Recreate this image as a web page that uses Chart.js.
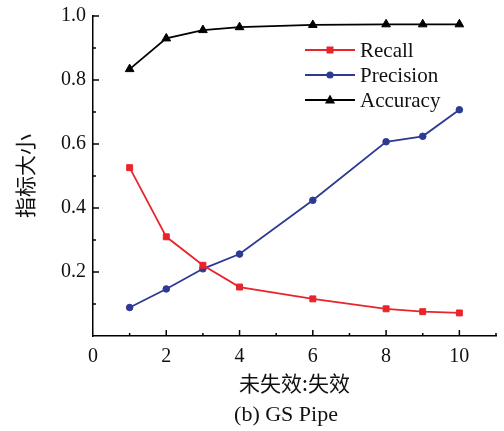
<!DOCTYPE html>
<html><head><meta charset="utf-8">
<script src="https://cdn.jsdelivr.net/npm/chart.js@4/dist/chart.umd.min.js"></script>
<style>html,body{margin:0;padding:0;background:#fff}#wrap{width:504px;height:431px;position:relative}</style>
</head><body><div id="wrap"><canvas id="c" width="504" height="431"></canvas></div>
<script>
const ratios = [1, 2, 3, 4, 6, 8, 9, 10];
const recall = [0.526, 0.310, 0.221, 0.153, 0.116, 0.085, 0.076, 0.072];
const precision = [0.089, 0.147, 0.210, 0.256, 0.424, 0.607, 0.624, 0.707];
const accuracy = [0.834, 0.930, 0.956, 0.965, 0.972, 0.974, 0.974, 0.974];
const xTickLabels = ['0', '2', '4', '6', '8', '10'];
const yTickLabels = ['0.2', '0.4', '0.6', '0.8', '1.0'];
const seriesNames = ['Recall', 'Precision', 'Accuracy'];
const xTitle = '未失效:失效';
const yTitle = '指标大小';
const caption = '(b) GS Pipe';

const SERIF = '"Liberation Serif","Times New Roman",serif';
const CJK = '"Noto Sans CJK SC","Liberation Serif",serif';
const RED = '#e8252b', BLUE = '#2e3a92', BLACK = '#000000';

function pts(vals){ return ratios.map((x,i)=>({x:x, y:vals[i]})); }

const insideTicks = {
  id: 'insideTicks',
  afterDraw(chart){
    const ctx = chart.ctx, xs = chart.scales.x, ys = chart.scales.y;
    const a = chart.chartArea;
    ctx.save();
    ctx.strokeStyle = '#000'; ctx.lineWidth = 1.5;
    for (let v = 1; v <= 11; v++) {
      const px = xs.getPixelForValue(v);
      const len = (v % 2 === 0) ? 6 : 3;
      ctx.beginPath(); ctx.moveTo(px, a.bottom); ctx.lineTo(px, a.bottom - len); ctx.stroke();
    }
    for (let k = 1; k <= 10; k++) {
      const py = ys.getPixelForValue(k/10);
      const len = (k % 2 === 0) ? 6 : 3;
      ctx.beginPath(); ctx.moveTo(a.left, py); ctx.lineTo(a.left + len, py); ctx.stroke();
    }
    ctx.restore();
  }
};

const captionPlugin = {
  id: 'captionPlugin',
  afterDraw(chart){
    const ctx = chart.ctx;
    ctx.save();
    ctx.fillStyle = '#111';
    ctx.font = '22px ' + SERIF;
    ctx.textAlign = 'center'; ctx.textBaseline = 'middle';
    ctx.fillText(caption, 286, 415);
    ctx.restore();
  }
};

const customLegend = {
  id: 'customLegend',
  afterDraw(chart){
    const ctx = chart.ctx;
    const x0 = 305, x1 = 355, tx = 360, rows = [50, 75, 100];
    ctx.save();
    chart.data.datasets.forEach((ds, i) => {
      const y = rows[i];
      ctx.strokeStyle = ds.borderColor; ctx.lineWidth = ds.borderWidth;
      ctx.beginPath(); ctx.moveTo(x0, y); ctx.lineTo(x1, y); ctx.stroke();
      const mx = (x0 + x1) / 2;
      ctx.fillStyle = ds.pointBackgroundColor;
      ctx.beginPath();
      if (ds.pointStyle === 'rect') { ctx.rect(mx-3.5, y-3.5, 7, 7); }
      else if (ds.pointStyle === 'circle') { ctx.arc(mx, y, 3.6, 0, Math.PI*2); }
      else { ctx.moveTo(mx, y-5.5); ctx.lineTo(mx+5, y+3.5); ctx.lineTo(mx-5, y+3.5); ctx.closePath(); }
      ctx.fill();
      ctx.fillStyle = '#111';
      ctx.font = '21px ' + SERIF;
      ctx.textBaseline = 'middle'; ctx.textAlign = 'left';
      ctx.fillText(ds.label, tx, y + 1);
    });
    ctx.restore();
  }
};

new Chart(document.getElementById('c'), {
  type: 'line',
  data: {
    datasets: [
      { label: seriesNames[0], data: pts(recall), borderColor: RED, backgroundColor: RED, pointBackgroundColor: RED, pointBorderColor: RED, pointStyle: 'rect', pointRadius: 4.2, pointBorderWidth: 1, borderWidth: 1.8, tension: 0 },
      { label: seriesNames[1], data: pts(precision), borderColor: BLUE, backgroundColor: BLUE, pointBackgroundColor: BLUE, pointBorderColor: BLUE, pointStyle: 'circle', pointRadius: 3.3, pointBorderWidth: 1, borderWidth: 1.8, tension: 0 },
      { label: seriesNames[2], data: pts(accuracy), borderColor: BLACK, backgroundColor: BLACK, pointBackgroundColor: BLACK, pointBorderColor: BLACK, pointStyle: 'triangle', pointRadius: 5, pointBorderWidth: 1, borderWidth: 1.8, tension: 0 }
    ]
  },
  options: {
    responsive: false, animation: false, devicePixelRatio: 1,
    layout: { padding: { top: 16, right: 8, left: 0, bottom: 0 } },
    plugins: { legend: { display: false }, tooltip: { enabled: false }, title: { display: false } },
    scales: {
      x: {
        type: 'linear', min: 0, max: 11,
        grid: { display: false, drawTicks: false },
        border: { display: true, color: '#000', width: 1.5 },
        ticks: { stepSize: 1, autoSkip: false, maxRotation: 0, padding: 9, color: '#111', font: { family: SERIF, size: 20 },
          callback: (v) => { const s = String(v); return xTickLabels.includes(s) ? s : ''; } },
        title: { display: true, text: xTitle, color: '#111', font: { family: CJK, size: 21 }, padding: { top: 0, bottom: 35 } },
        afterFit(s){ s.height = 95; s.paddingLeft = 0; s.paddingRight = 0; }
      },
      y: {
        type: 'linear', min: 0, max: 1.0,
        grid: { display: false, drawTicks: false },
        border: { display: true, color: '#000', width: 1.5 },
        ticks: { stepSize: 0.1, autoSkip: false, padding: 7, color: '#111', font: { family: SERIF, size: 20 },
          callback: (v) => { const s = Number(v).toFixed(1); return yTickLabels.includes(s) ? s : ''; } },
        title: { display: true, text: yTitle, color: '#111', font: { family: CJK, size: 21 }, padding: { top: 12, bottom: 0 } },
        afterFit(s){ s.width = 93; s.paddingTop = 0; s.paddingBottom = 0; }
      }
    }
  },
  plugins: [insideTicks, customLegend, captionPlugin]
});
</script></body></html>
